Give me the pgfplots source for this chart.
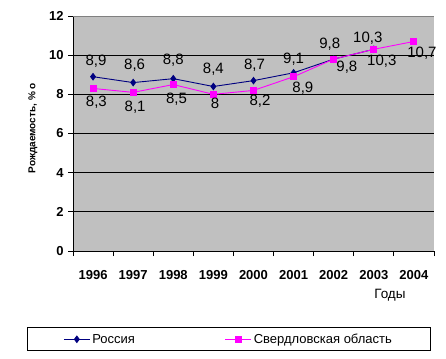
\documentclass[border=0pt]{standalone}
\usepackage{fontspec}
\setmainfont{Liberation Sans}
\usepackage{pgfplots}
\pgfplotsset{compat=1.18}
\usepackage{pgfplotstable}
\definecolor{bggray}{HTML}{C0C0C0}
\definecolor{bordgray}{HTML}{808080}
\definecolor{navy}{HTML}{000080}
\definecolor{mag}{HTML}{FF00FF}

\pgfplotstableread{
year val dx dy
1996 8.9  3  -15.3
1997 8.6  1.5 -17.3
1998 8.8  0  -18
1999 8.4  0  -17.3
2000 8.7  1  -15.3
2001 9.1  0  -14
2002 9.8  -4 -14.7
2003 10.3 -6 -10.7
}\russia

\pgfplotstableread{
year val dx dy
1996 8.3  3.3 13.3
1997 8.1  2   14.7
1998 8.5  3.3 14.5
1999 8.0  1.7 9
2000 8.2  6.5 10.6
2001 8.9  9.3 12
2002 9.8  13.2 8
2003 10.3 8   11.7
2004 10.7 8   11.6
}\sverd

\begin{document}
\begin{tikzpicture}
\path[use as bounding box] (-73bp,-108bp) rectangle (373bp,251bp);
\begin{axis}[
  scale only axis,
  width=361bp, height=235bp,
  xmin=1995.5, xmax=2004.5,
  ymin=0, ymax=12,
  axis lines=left,
  axis line style={-, black, line width=0.8bp},
  axis background/.style={fill=bggray},
  /pgf/number format/assume math mode=true,
  xtick={1996,1997,...,2004},
  xticklabels={1996,1997,1998,1999,2000,2001,2002,2003,2004},
  minor xtick={1995.5,1996.5,...,2004.5},
  major x tick style={draw=none},
  ytick={0,2,...,10},
  extra y ticks={12},
  extra y tick style={grid=none},
  ymajorgrids,
  major grid style={black, line width=0.8bp},
  tick align=outside,
  major tick length=5bp,
  minor tick length=5bp,
  tick style={black, line width=0.8bp},
  ticklabel style={font=\bfseries\fontsize{13bp}{15bp}\selectfont},
  xticklabel style={anchor=center, yshift=-19bp},
  yticklabel style={xshift=-1bp},
  ylabel={Рождаемость, \% о},
  ylabel style={font=\bfseries\fontsize{10bp}{12bp}\selectfont, at={(axis description cs:-0.1108,0.523)}, anchor=center},
  xlabel={Годы},
  xlabel style={font=\fontsize{13.5bp}{15bp}\selectfont, at={(axis description cs:0.878,-0.187)}, anchor=center},
  legend columns=2,
  legend style={at={(axis description cs:-0.1274,-0.325)}, anchor=north west,
    draw=black, line width=0.8bp, inner xsep=36bp, inner ysep=4bp,
    font=\fontsize{13bp}{16bp}\selectfont,
    /tikz/column 2/.style={column sep=88bp}},
  legend image code/.code={\draw[mark repeat=2,mark phase=2,#1] plot coordinates {(0bp,0bp)(13bp,0bp)(26bp,0bp)};},
  nodes near coords={\pgfmathprintnumber[use comma]{\pgfplotspointmeta}},
  point meta=y,
  visualization depends on={\thisrow{dx} \as \labdx},
  visualization depends on={\thisrow{dy} \as \labdy},
  nodes near coords style={anchor=center, xshift=\labdx bp, yshift=-\labdy bp, text=black, font=\fontsize{15bp}{17bp}\selectfont},
]
\addplot[navy, line width=0.9bp, mark=diamond*, mark size=3.2bp, mark options={solid, fill=navy}] table[x=year, y=val] {\russia};
\addlegendentry{Россия}
\addplot[mag, line width=0.9bp, mark=square*, mark size=3bp, mark options={solid, fill=mag}] table[x=year, y=val] {\sverd};
\addlegendentry{Свердловская область}
\draw[bordgray, line width=0.8bp] (rel axis cs:0,1) -- (rel axis cs:1,1) -- (rel axis cs:1,0);
\end{axis}
\end{tikzpicture}
\end{document}
